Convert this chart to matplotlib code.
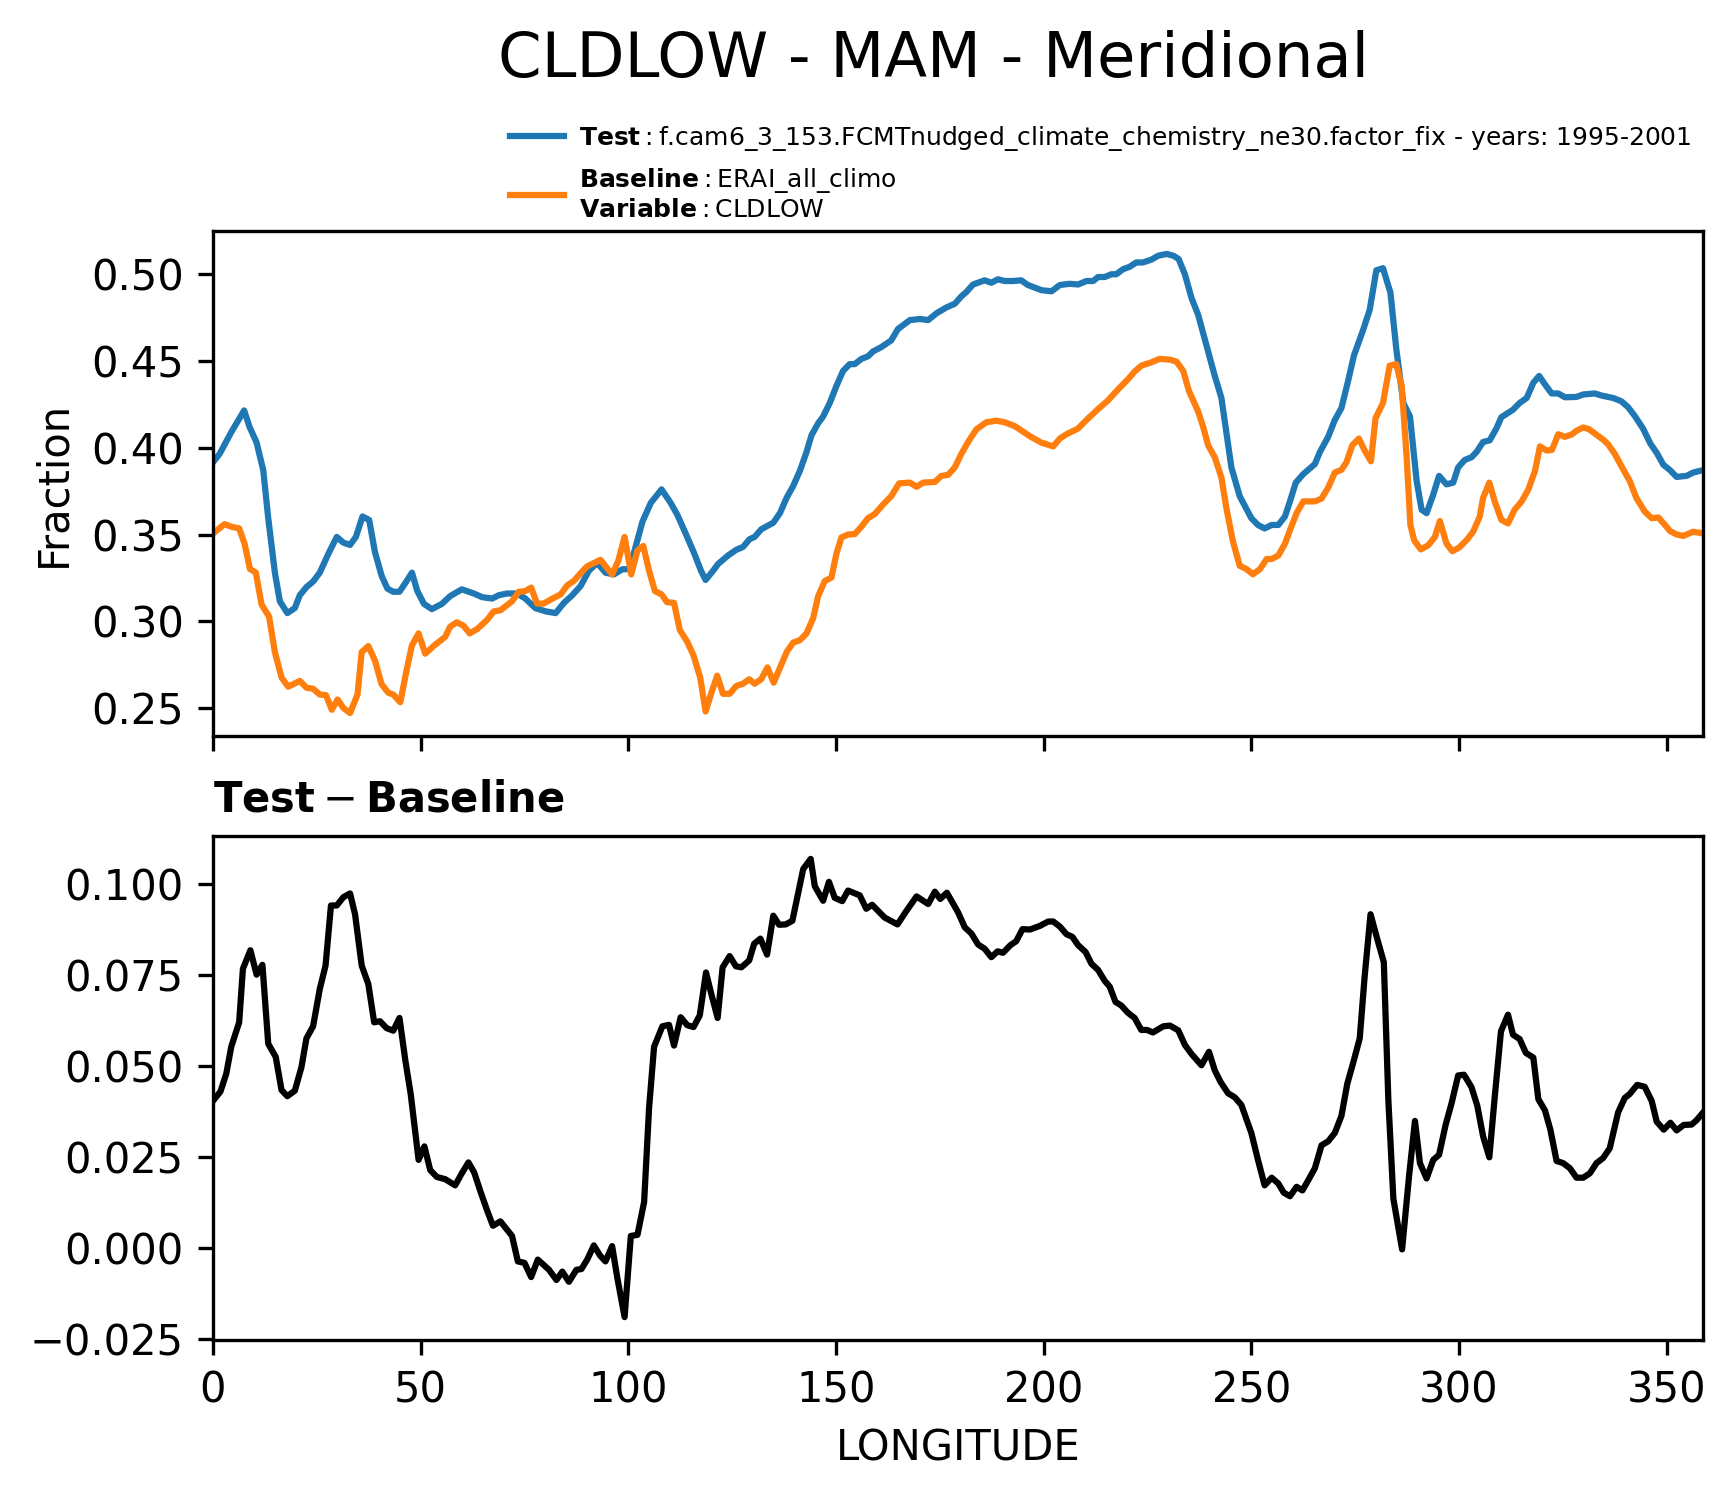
import numpy as np
import matplotlib
matplotlib.use("Agg")
import matplotlib.pyplot as plt
from matplotlib.lines import Line2D

# --- data (longitude, value) ---
test_lon = [0, 1.6, 4.4, 7.5, 8.8, 10.5, 12.1, 13.3, 14.9, 16.1, 17.9, 19.7, 20.9, 22.5, 24.1,
            25.7, 27.8, 29.8, 31.4, 33, 34.4, 36, 37.6, 39, 40.6, 42, 43.4, 44.9, 46.5, 47.9,
            49.2, 50.8, 52.7, 55.1, 57.1, 59.9, 62.8, 64.8, 67.2, 68.8, 70.8, 73.2, 75.2, 77.6,
            80.1, 82.5, 84.5, 86.5, 88.5, 90.5, 92.5, 94.5, 96.5, 98.6, 100.2, 101.4, 103.4,
            105.4, 108, 110.2, 111.8, 113.8, 115.8, 117.5, 118.6, 120.4, 121.6, 124, 126, 127.6,
            129.2, 130.4, 132, 134.9, 136.5, 138.1, 139.7, 141.3, 142.9, 144.1, 145.7, 146.9,
            148.5, 150.1, 151.7, 153.3, 154.5, 156.1, 157.7, 158.9, 160.9, 163.3, 164.9, 167.8,
            170.2, 172.2, 174.2, 176.6, 178.6, 180.2, 181.4, 183, 185.8, 187.4, 189, 190.6,
            192.6, 194.6, 196.2, 197.5, 199.5, 201.9, 203.9, 206.3, 208.3, 210.3, 211.9, 213.1,
            214.7, 216.3, 217.5, 219.1, 220.7, 222.3, 223.9, 225.9, 227.6, 229.6, 231.2, 232.5,
            234, 235.6, 237.2, 239.2, 241.2, 242.8, 245.2, 247.2, 250, 251.6, 253.2, 254.9,
            256.5, 258.1, 259.3, 260.7, 262.5, 265.3, 266.5, 268.5, 270.1, 271.7, 273.3, 274.7,
            276.9, 278.5, 280.1, 281.7, 283.5, 284.9, 286.6, 288.2, 289.8, 291, 292.2, 293.8,
            295.2, 297, 298.6, 299.8, 301.4, 303, 304.2, 305.8, 307.4, 309, 310.2, 313, 314.6,
            316.3, 317.9, 319.3, 320.7, 322.3, 323.9, 325.5, 328.3, 329.9, 332.7, 334.3, 337.1,
            339.1, 340.7, 342.3, 344.3, 346.1, 347.6, 349.2, 350.8, 352.4, 354.8, 356.4, 358.75]
test_val = [0.3916, 0.3965, 0.409, 0.4215, 0.412, 0.403, 0.387, 0.3594, 0.328, 0.3115, 0.3047,
            0.3076, 0.315, 0.3197, 0.3229, 0.328, 0.339, 0.3486, 0.3453, 0.344, 0.3486, 0.3604,
            0.3584, 0.3398, 0.3262, 0.3188, 0.317, 0.317, 0.3227, 0.328, 0.3174, 0.31, 0.307,
            0.31, 0.3145, 0.3184, 0.316, 0.3139, 0.3131, 0.315, 0.316, 0.316, 0.3131, 0.3076,
            0.3057, 0.3047, 0.3106, 0.315, 0.3203, 0.3291, 0.3336, 0.328, 0.327, 0.33, 0.33,
            0.3398, 0.3574, 0.3682, 0.376, 0.3682, 0.3613, 0.3506, 0.3395, 0.3291, 0.3238,
            0.3291, 0.333, 0.3379, 0.3412, 0.3428, 0.3473, 0.3486, 0.353, 0.3568, 0.3623, 0.3711,
            0.378, 0.3867, 0.3975, 0.4072, 0.4141, 0.418, 0.4258, 0.4356, 0.4443, 0.4482, 0.4482,
            0.4512, 0.4527, 0.4555, 0.458, 0.4619, 0.4684, 0.4736, 0.4742, 0.4736, 0.4775,
            0.4809, 0.483, 0.4873, 0.4898, 0.4941, 0.4965, 0.4951, 0.4971, 0.4961, 0.4961,
            0.4965, 0.4938, 0.4926, 0.4908, 0.4902, 0.4938, 0.4945, 0.4941, 0.4961, 0.4961,
            0.4984, 0.4984, 0.5, 0.5, 0.5029, 0.5043, 0.5068, 0.5068, 0.5084, 0.5107, 0.5117,
            0.5107, 0.5088, 0.5, 0.4863, 0.4766, 0.459, 0.4414, 0.4287, 0.3887, 0.3721, 0.3594,
            0.3555, 0.3535, 0.3555, 0.3555, 0.3604, 0.3691, 0.3799, 0.3848, 0.3906, 0.3975,
            0.4063, 0.416, 0.4229, 0.4385, 0.4531, 0.4678, 0.4795, 0.5023, 0.5035, 0.4893, 0.457,
            0.4258, 0.418, 0.3809, 0.3643, 0.3623, 0.373, 0.3838, 0.3789, 0.3799, 0.3887, 0.393,
            0.3945, 0.3975, 0.4033, 0.4043, 0.4111, 0.4176, 0.4219, 0.4258, 0.4287, 0.4375,
            0.4414, 0.4365, 0.4313, 0.4313, 0.4291, 0.4293, 0.4307, 0.4313, 0.4301, 0.4287,
            0.4268, 0.4234, 0.4184, 0.4111, 0.4023, 0.3971, 0.3902, 0.3871, 0.3832, 0.3838,
            0.3857, 0.3871]

base_lon = [0, 2.8, 4.4, 6.3, 7.6, 8.9, 10.3, 11.7, 13.5, 14.9, 16.5, 18.1, 20.9, 22.5, 24.1,
            25.7, 27.2, 28.6, 30, 31.4, 33, 34.8, 35.8, 37.4, 39, 40.6, 42.2, 43.4, 45.1, 46.5,
            47.9, 49.5, 51.1, 53.1, 55.9, 57.1, 58.7, 60.3, 61.8, 63.6, 66, 67.6, 69.2, 72, 73.6,
            75.2, 76.6, 78, 79.6, 81.3, 83.7, 85.3, 86.9, 88.5, 90.1, 93.3, 96.1, 97.6, 99.1,
            100.7, 102.2, 103.6, 105, 106.4, 108, 109.3, 111, 112.4, 114.2, 115.7, 117.3, 118.6,
            120, 121.4, 122.8, 124.4, 126, 127.6, 129.1, 130.4, 132, 133.5, 135, 136.9, 138.2,
            139.7, 141.3, 142.9, 144.5, 145.7, 147.3, 148.9, 150.1, 151.3, 152.9, 154.5, 156.1,
            157.7, 159.3, 161.3, 163.3, 165.2, 167.8, 169.4, 171, 173.8, 175.4, 177, 178.6,
            180.2, 181.8, 183.8, 186.2, 188.6, 190.6, 193, 195.1, 196.7, 199.5, 202.3, 203.9,
            205.5, 208.3, 210.3, 213.1, 215.5, 217.9, 220.3, 221.9, 223.5, 225.9, 227.9, 230.4,
            232, 233.6, 235, 237.2, 238.4, 239.6, 241.2, 242.8, 244, 245.5, 247.2, 248.8, 250.4,
            252.1, 253.7, 254.9, 256.5, 258.1, 259.3, 260.9, 262.5, 265.3, 266.9, 268.5, 270.1,
            271.7, 272.9, 274.3, 275.9, 277.3, 278.8, 279.9, 281.7, 283.3, 284.9, 286.2, 287.4,
            288.3, 289.2, 290.8, 292.6, 294.2, 295.4, 297, 298.4, 300, 301.8, 303.4, 305, 305.8,
            307.3, 308.6, 310.2, 311.8, 313.4, 315.1, 316.7, 318.3, 319.5, 321.1, 322.4, 323.9,
            325.5, 327.1, 328.3, 329.9, 331.3, 332.7, 334.7, 335.9, 337.5, 339.5, 341.1, 342.7,
            344.7, 346.4, 348, 349.6, 350.8, 352.4, 354, 356.4, 358.75]
base_val = [0.3506, 0.356, 0.3545, 0.3535, 0.3447, 0.3301, 0.3281, 0.3096, 0.3027, 0.2822,
            0.2676, 0.2623, 0.2656, 0.2617, 0.2611, 0.2578, 0.2574, 0.249, 0.2549, 0.25, 0.2471,
            0.2578, 0.2822, 0.2857, 0.2773, 0.2637, 0.2588, 0.2578, 0.2533, 0.2705, 0.2861,
            0.293, 0.2813, 0.2857, 0.291, 0.2969, 0.2994, 0.2975, 0.293, 0.2955, 0.3008, 0.3057,
            0.3063, 0.3115, 0.317, 0.3174, 0.3194, 0.3102, 0.3102, 0.3125, 0.3155, 0.3207,
            0.3233, 0.3277, 0.3317, 0.3354, 0.327, 0.335, 0.3486, 0.327, 0.3408, 0.3434, 0.3291,
            0.3174, 0.3155, 0.311, 0.3106, 0.295, 0.2881, 0.2803, 0.2676, 0.248, 0.2588, 0.2686,
            0.2582, 0.2582, 0.2627, 0.264, 0.2666, 0.264, 0.2666, 0.2734, 0.2646, 0.2754, 0.2826,
            0.2877, 0.2891, 0.293, 0.3018, 0.3145, 0.3232, 0.3252, 0.3389, 0.3483, 0.35, 0.3502,
            0.3545, 0.3594, 0.3617, 0.3672, 0.3721, 0.3795, 0.3799, 0.3775, 0.3799, 0.3803,
            0.3838, 0.3844, 0.3887, 0.3965, 0.4033, 0.4106, 0.4147, 0.4156, 0.4147, 0.4125,
            0.4092, 0.4066, 0.4029, 0.4008, 0.4053, 0.4078, 0.4111, 0.416, 0.4223, 0.4273,
            0.4336, 0.4395, 0.4439, 0.4473, 0.4492, 0.4512, 0.4508, 0.4496, 0.4443, 0.4326,
            0.4209, 0.4121, 0.4014, 0.3945, 0.3828, 0.3652, 0.3467, 0.332, 0.3301, 0.3271,
            0.3301, 0.3359, 0.3359, 0.3379, 0.3447, 0.3525, 0.3623, 0.3691, 0.3691, 0.3707,
            0.377, 0.3857, 0.3873, 0.3916, 0.4014, 0.4053, 0.3984, 0.3922, 0.417, 0.4258, 0.4473,
            0.4482, 0.4355, 0.3945, 0.3555, 0.3467, 0.3414, 0.3438, 0.3486, 0.3578, 0.3447,
            0.3404, 0.3424, 0.3467, 0.3516, 0.3604, 0.3711, 0.3799, 0.3691, 0.3584, 0.3564,
            0.3643, 0.3691, 0.376, 0.3867, 0.4008, 0.3984, 0.3988, 0.4078, 0.4063, 0.4076,
            0.4098, 0.4117, 0.4107, 0.4082, 0.4047, 0.402, 0.3965, 0.3877, 0.3809, 0.3711,
            0.3633, 0.3594, 0.3598, 0.3555, 0.352, 0.35, 0.3492, 0.3516, 0.3506]

diff_lon = [0, 1.8, 3.2, 4.4, 6.3, 7.2, 9, 10.5, 11.9, 13.3, 15.1, 16.5, 17.9, 19.7, 21.3,
            22.5, 24.1, 25.7, 27.1, 28.4, 29.8, 31.4, 33, 34.2, 35.8, 37.4, 38.8, 40.2, 41.8,
            43.4, 44.9, 46.3, 47.6, 49.5, 50.9, 52.3, 53.9, 55.9, 58.3, 59.9, 61.5, 62.9, 64.4,
            66, 67.4, 69.2, 72, 73.4, 75, 76.6, 78.2, 80.9, 82.7, 84.1, 85.7, 87.5, 88.7, 90.1,
            91.7, 93.2, 94.5, 96.1, 97.3, 99.1, 100.6, 102.2, 103.8, 105, 106.2, 108.2, 109.8,
            111, 112.6, 114.2, 115.7, 117.2, 118.7, 120, 121.5, 122.7, 124.4, 125.9, 127.2,
            129.1, 130.3, 131.8, 133.4, 134.9, 136.3, 137.9, 139.5, 140.9, 142.1, 143.9, 144.9,
            146.9, 148.3, 149.7, 151.5, 152.9, 155.7, 157.3, 158.7, 161.7, 164.8, 167, 169.4,
            172.2, 173.8, 175.1, 176.7, 179.4, 181, 182.6, 184.2, 185.8, 187.4, 188.9, 190.2,
            192, 193.4, 194.9, 196.7, 199.1, 201.1, 202.3, 203.9, 205.5, 206.9, 208.3, 210.1,
            211.5, 213.1, 214.7, 215.9, 217.3, 218.7, 220.3, 221.9, 223.5, 224.9, 226.3, 228.8,
            230.4, 232.4, 234, 235.6, 238, 239.8, 241.2, 242.6, 244.4, 246, 247.6, 250, 251.6,
            253.2, 254.9, 256.5, 257.8, 259.3, 260.9, 262.3, 263.7, 265.3, 266.9, 268.5, 270.1,
            271.7, 273.1, 274.7, 276.1, 277.3, 278.7, 280.3, 281.9, 283, 284.2, 286.3, 288,
            289.4, 290.6, 292.2, 293.8, 295.2, 296.8, 298.2, 299.8, 301.2, 303, 304.4, 305.8,
            307.3, 308.6, 310.1, 311.8, 313, 314.6, 316.1, 317.9, 319.1, 320.7, 322, 323.5,
            325.1, 326.7, 328.3, 329.9, 331.5, 333.1, 334.7, 336.3, 338.3, 339.9, 341.1, 342.9,
            344.7, 346.4, 347.6, 349.3, 350.9, 352.4, 354.1, 356, 357.2, 358.75]
diff_val = [0.0405, 0.0431, 0.048, 0.0554, 0.0621, 0.0768, 0.0819, 0.0752, 0.0779, 0.0562,
            0.0526, 0.0435, 0.0418, 0.0433, 0.0498, 0.0577, 0.061, 0.0712, 0.0777, 0.0942,
            0.0942, 0.0965, 0.0975, 0.0918, 0.0777, 0.0726, 0.0621, 0.0624, 0.0605, 0.0598,
            0.0633, 0.0517, 0.0424, 0.0243, 0.028, 0.0215, 0.0196, 0.019, 0.0173, 0.0206,
            0.0236, 0.0208, 0.0156, 0.0104, 0.0062, 0.0074, 0.0034, -0.0036, -0.004, -0.0079,
            -0.0031, -0.0059, -0.0087, -0.0064, -0.0092, -0.0059, -0.0057, -0.0031, 0.0008,
            -0.002, -0.0036, 0.0006, -0.0078, -0.0189, 0.0034, 0.0037, 0.0127, 0.0387, 0.0554,
            0.061, 0.0614, 0.0557, 0.0635, 0.0613, 0.0608, 0.064, 0.0758, 0.0698, 0.0633,
            0.0772, 0.0803, 0.0775, 0.0772, 0.0791, 0.0837, 0.0851, 0.0807, 0.0914, 0.0889,
            0.089, 0.09, 0.0977, 0.1042, 0.107, 0.0995, 0.0955, 0.1007, 0.0963, 0.0954, 0.0983,
            0.097, 0.0933, 0.0944, 0.0909, 0.089, 0.0928, 0.0967, 0.0946, 0.098, 0.096, 0.0977,
            0.0923, 0.0882, 0.0865, 0.0835, 0.0823, 0.08, 0.0816, 0.0812, 0.0833, 0.0844,
            0.0877, 0.0876, 0.0886, 0.0898, 0.0898, 0.0884, 0.0863, 0.0856, 0.0833, 0.0814,
            0.0782, 0.0765, 0.0735, 0.0719, 0.0677, 0.0667, 0.0647, 0.0633, 0.06, 0.06, 0.0593,
            0.061, 0.0612, 0.0599, 0.0559, 0.0534, 0.0503, 0.054, 0.0489, 0.0457, 0.0426,
            0.0415, 0.0394, 0.0317, 0.0243, 0.0173, 0.0194, 0.0178, 0.0153, 0.0143, 0.0169,
            0.0159, 0.0187, 0.022, 0.0283, 0.0294, 0.0317, 0.0364, 0.0452, 0.0517, 0.0577,
            0.0749, 0.0918, 0.0851, 0.0786, 0.0405, 0.0136, -0.0003, 0.0201, 0.035, 0.0234,
            0.0192, 0.0243, 0.0257, 0.034, 0.0398, 0.0475, 0.0477, 0.0443, 0.0392, 0.0308,
            0.025, 0.0415, 0.0596, 0.0642, 0.0587, 0.0575, 0.0537, 0.0524, 0.041, 0.0379,
            0.0326, 0.024, 0.0234, 0.022, 0.0194, 0.0194, 0.0206, 0.0234, 0.0248, 0.0275,
            0.0373, 0.0413, 0.0424, 0.0449, 0.0444, 0.0405, 0.0348, 0.0326, 0.0345, 0.0324,
            0.0339, 0.034, 0.0352, 0.0373]

test_name = "f.cam6_3_153.FCMTnudged_climate_chemistry_ne30.factor_fix - years: 1995-2001"
base_name = "ERAI_all_climo"
var_name = "CLDLOW"
season = "MAM"

W, H = 1735, 1496
fig = plt.figure(figsize=(W / 300, H / 300), dpi=300)

ax1 = fig.add_axes([213 / W, 1 - 736 / H, 1490 / W, 505 / H])
ax2 = fig.add_axes([213 / W, 1 - 1340 / H, 1490 / W, 504 / H], sharex=ax1)

fs = 10
ax1.plot(test_lon, test_val, color="#1f77b4")
ax1.plot(base_lon, base_val, color="#ff7f0e")
ax1.set_ylabel("Fraction", fontsize=fs)
ax1.tick_params(labelsize=fs, labelbottom=False)

ax2.plot(diff_lon, diff_val, color="k")
ax2.set_xlabel("LONGITUDE", fontsize=fs)
ax2.tick_params(labelsize=fs)
ax2.set_title(r"$\mathbf{Test} - \mathbf{Baseline}$", loc="left", fontsize=fs)
ax2.set_xlim(0, 358.75)

fig.text(933 / W, 1 - 77 / H, f"{var_name} - {season} - Meridional",
         ha="center", va="baseline", fontsize=15)

line = Line2D([0], [0], color="#1f77b4",
              label=r"$\mathbf{Test}:$" + test_name)
line2 = Line2D([0], [0], color="#ff7f0e",
               label=r"$\mathbf{Baseline}:$" + base_name + "\n" + r"$\mathbf{Variable}:$" + var_name)
fig.legend(handles=[line, line2], loc="upper left", bbox_to_anchor=(510 / W, 1 - 124 / H),
           frameon=False, fontsize=6, handlelength=2.15, handletextpad=0.6,
           borderpad=0, borderaxespad=0)

fig.savefig("out.png", dpi=300)
